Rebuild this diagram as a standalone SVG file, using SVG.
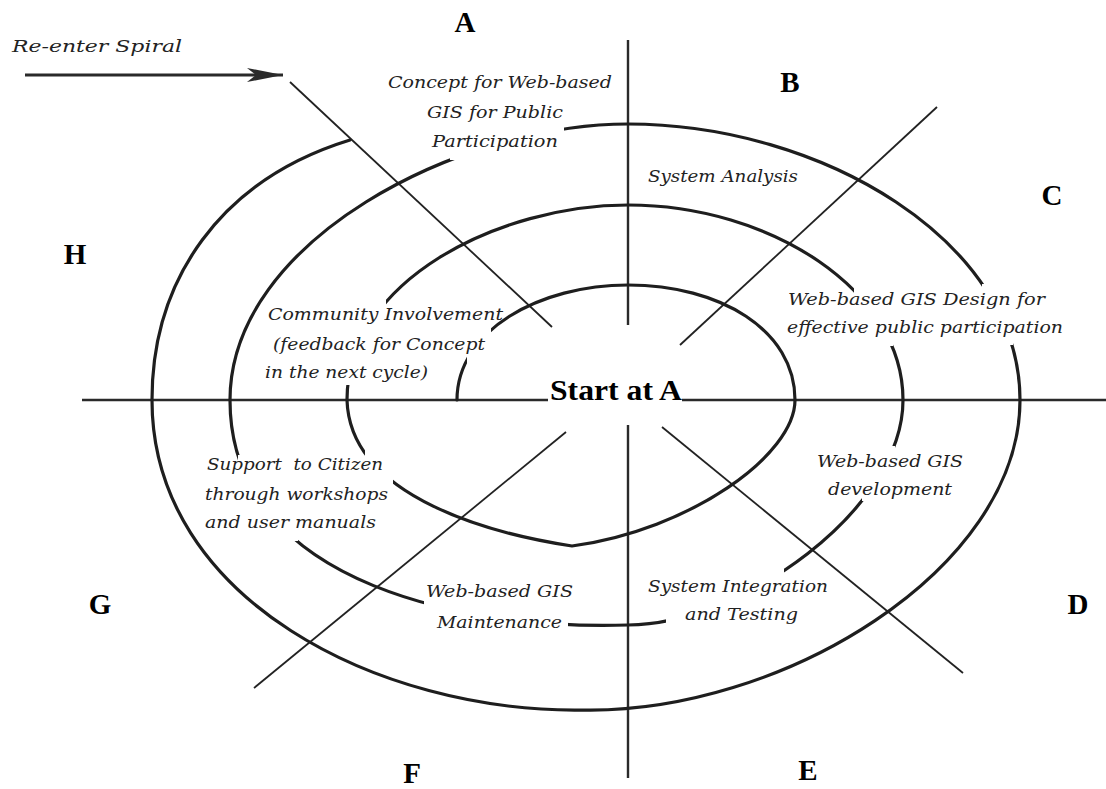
<svg xmlns="http://www.w3.org/2000/svg" width="1106" height="789" viewBox="0 0 1106 789">
<style>
.axis{stroke:#2a2a2a;stroke-width:2.4;fill:none}
.diag{stroke:#222;stroke-width:1.8;fill:none}
.spiral{stroke:#1e1e1e;stroke-width:3.2;fill:none;stroke-linecap:round;stroke-linejoin:round}
.lbl{font-family:"Liberation Serif","Times New Roman",serif;font-weight:bold;font-size:29px;fill:#000;text-anchor:middle}
.it{font-family:"DejaVu Serif","Liberation Serif",serif;font-style:italic;font-size:17px;fill:#222}
.start{font-family:"Liberation Serif","Times New Roman",serif;font-weight:bold;font-size:30px;fill:#000}
</style>
<defs>
<marker id="arrowHead" viewBox="0 0 36 16" refX="36" refY="8" markerWidth="36" markerHeight="16" markerUnits="userSpaceOnUse" orient="auto">
<path d="M0,1 L36,8 L0,15 L9,8 Z" fill="#2a2a2a"/>
</marker>
<mask id="gaps" maskUnits="userSpaceOnUse" x="0" y="0" width="1106" height="789">
<rect x="0" y="0" width="1106" height="789" fill="#fff"/>
<rect x="467" y="325" width="24" height="41" fill="#000"/>
<rect x="365" y="440" width="28" height="48" fill="#000"/>
<rect x="335" y="298" width="51" height="87" fill="#000"/>
<rect x="854" y="284" width="39" height="62" fill="#000"/>
<rect x="862" y="446" width="33" height="55" fill="#000"/>
<rect x="666" y="565" width="118" height="58" fill="#000"/>
<rect x="424" y="598" width="144" height="30" fill="#000"/>
<rect x="238" y="455" width="60" height="86" fill="#000"/>
<rect x="450" y="118" width="114" height="42" fill="#000"/>
<rect x="982" y="284" width="31" height="61" fill="#000"/>
</mask>
</defs>
<rect x="0" y="0" width="1106" height="789" fill="#fff"/>

<g id="connectors">
<path class="axis" d="M628,40 V325 M628,425 V778"/>
<path class="axis" d="M82,400 H548 M682,400 H1106"/>
<path class="diag" d="M290,82 L552,327"/>
<path class="diag" d="M680,345 L937,107"/>
<path class="diag" d="M254,688 L566,432"/>
<path class="diag" d="M662,427 L963,673"/>
<path id="spiral" class="spiral" mask="url(#gaps)" d="M457,400 C457,330 540,285 628,285 C720,285 795,330 795,400 C795,455 690,530 572,546 C500,535 350,500 347,400 C347,280 500,205 628,205 C770,205 903,290 903,400 C903,510 740,625 628,625 C480,630 230,590 230,400 C230,240 460,124 628,124 C820,124 1020,240 1020,400 C1020,570 780,715 580,710 C380,712 152,600 152,400 C152,280 220,180 350,140"/>
<path id="reenter-arrow" d="M25,75 H283" stroke="#2a2a2a" stroke-width="3" fill="none" marker-end="url(#arrowHead)"/>
</g>

<g id="reenter"><text class="it" x="12" y="52" font-size="18" textLength="170" lengthAdjust="spacingAndGlyphs">Re-enter Spiral</text></g>

<g id="label-A"><text class="lbl" x="465" y="32">A</text></g>
<g id="label-B"><text class="lbl" x="790" y="92">B</text></g>
<g id="label-C"><text class="lbl" x="1052" y="205">C</text></g>
<g id="label-D"><text class="lbl" x="1078" y="614">D</text></g>
<g id="label-E"><text class="lbl" x="808" y="780">E</text></g>
<g id="label-F"><text class="lbl" x="412" y="783">F</text></g>
<g id="label-G"><text class="lbl" x="100" y="614">G</text></g>
<g id="label-H"><text class="lbl" x="75" y="264">H</text></g>

<g id="start"><text class="start" x="550" y="400" textLength="132" lengthAdjust="spacingAndGlyphs">Start at A</text></g>

<g id="phase-concept">
<text class="it" x="388" y="88" textLength="224" lengthAdjust="spacingAndGlyphs">Concept for Web-based</text>
<text class="it" x="427" y="118" textLength="136" lengthAdjust="spacingAndGlyphs">GIS for Public</text>
<text class="it" x="432" y="147" textLength="126" lengthAdjust="spacingAndGlyphs">Participation</text>
</g>
<g id="phase-analysis">
<text class="it" x="648" y="182" textLength="150" lengthAdjust="spacingAndGlyphs">System Analysis</text>
</g>
<g id="phase-design">
<text class="it" x="788" y="305" textLength="257" lengthAdjust="spacingAndGlyphs">Web-based GIS Design for</text>
<text class="it" x="787" y="333" textLength="276" lengthAdjust="spacingAndGlyphs">effective public participation</text>
</g>
<g id="phase-development">
<text class="it" x="817" y="467" textLength="146" lengthAdjust="spacingAndGlyphs">Web-based GIS</text>
<text class="it" x="828" y="495" textLength="124" lengthAdjust="spacingAndGlyphs">development</text>
</g>
<g id="phase-integration">
<text class="it" x="648" y="592" textLength="180" lengthAdjust="spacingAndGlyphs">System Integration</text>
<text class="it" x="685" y="620" textLength="113" lengthAdjust="spacingAndGlyphs">and Testing</text>
</g>
<g id="phase-maintenance">
<text class="it" x="426" y="597" textLength="147" lengthAdjust="spacingAndGlyphs">Web-based GIS</text>
<text class="it" x="437" y="628" textLength="125" lengthAdjust="spacingAndGlyphs">Maintenance</text>
</g>
<g id="phase-support">
<text class="it" x="207" y="470" textLength="176" lengthAdjust="spacingAndGlyphs" xml:space="preserve">Support  to Citizen</text>
<text class="it" x="205" y="500" textLength="183" lengthAdjust="spacingAndGlyphs">through workshops</text>
<text class="it" x="205" y="528" textLength="171" lengthAdjust="spacingAndGlyphs">and user manuals</text>
</g>
<g id="phase-community">
<text class="it" x="268" y="320" textLength="235" lengthAdjust="spacingAndGlyphs">Community Involvement</text>
<text class="it" x="273" y="350" textLength="212" lengthAdjust="spacingAndGlyphs">(feedback for Concept</text>
<text class="it" x="265" y="378" textLength="163" lengthAdjust="spacingAndGlyphs">in the next cycle)</text>
</g>
</svg>
